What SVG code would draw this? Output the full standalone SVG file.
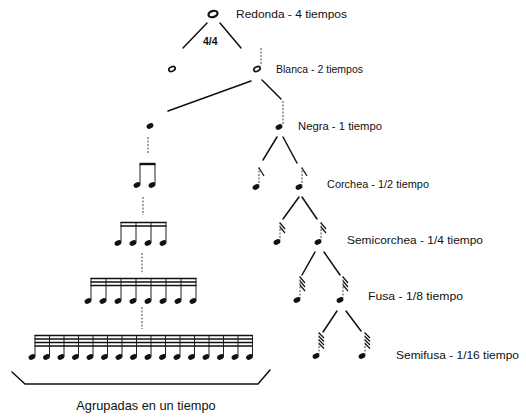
<svg xmlns="http://www.w3.org/2000/svg" xmlns:xlink="http://www.w3.org/1999/xlink" width="526" height="417" viewBox="0 0 526 417">
<style>
.lbl{font-family:"Liberation Sans",Arial,sans-serif;font-size:10.8px;fill:#111}
.big{font-family:"Liberation Sans",Arial,sans-serif;font-size:12.8px;fill:#111}
.edge{stroke:#111;stroke-width:1.5;fill:none;stroke-linecap:round}
.dash{stroke:#444;stroke-width:1;stroke-dasharray:2 1.5;fill:none}
.stem{stroke:#222;stroke-width:1;fill:none}
.flag{stroke:#111;stroke-width:1.2;fill:none}
.beam{stroke:#111;stroke-width:1.6;fill:none}
</style>
<defs>
<ellipse id="q" cx="0" cy="0" rx="3.6" ry="2.5" transform="rotate(-25)" fill="#111"/>
<ellipse id="h" cx="0" cy="0" rx="3.4" ry="2.1" transform="rotate(-25)" fill="none" stroke="#111" stroke-width="1.7"/>
</defs>
<rect width="526" height="417" fill="#fff"/>

<g id="connectors">
<line class="edge" x1="207" y1="23" x2="183" y2="48"/>
<line class="edge" x1="220" y1="23" x2="241" y2="48"/>
<line class="edge" x1="251" y1="81" x2="168" y2="111"/>
<line class="edge" x1="262" y1="80" x2="281" y2="99"/>
<line class="edge" x1="277" y1="137" x2="263" y2="160"/>
<line class="edge" x1="283" y1="137" x2="297" y2="163"/>
<line class="edge" x1="299" y1="197" x2="283" y2="219"/>
<line class="edge" x1="302" y1="197" x2="317" y2="219"/>
<line class="edge" x1="315" y1="252" x2="302" y2="275"/>
<line class="edge" x1="324" y1="252" x2="340" y2="275"/>
<line class="edge" x1="337" y1="311" x2="323" y2="332"/>
<line class="edge" x1="346" y1="311" x2="361" y2="331"/>
<line class="dash" x1="148" y1="137" x2="148" y2="154"/>
<line class="dash" x1="143" y1="197" x2="143" y2="215"/>
<line class="dash" x1="142" y1="253" x2="142" y2="272"/>
<line class="dash" x1="142" y1="307" x2="142" y2="329"/>
<path class="edge" d="M12 372 L25 384 L258 384 L270 370"/>
</g>

<g id="redonda">
<ellipse cx="213" cy="14" rx="4.6" ry="3" transform="rotate(-15 213 14)" fill="none" stroke="#111" stroke-width="2.2"/>
<text class="lbl" x="236" y="18" textLength="111" lengthAdjust="spacingAndGlyphs">Redonda - 4 tiempos</text>
<text x="203" y="45" font-family="Liberation Sans,Arial,sans-serif" font-size="10.5" font-weight="bold" fill="#111">4/4</text>
</g>

<g id="blanca-left">
<use xlink:href="#h" x="172" y="69"/>
</g>

<g id="blanca">
<use xlink:href="#h" x="257" y="69"/>
<line class="dash" x1="261" y1="48" x2="261" y2="66"/>
<text class="lbl" x="276" y="73" textLength="87" lengthAdjust="spacingAndGlyphs">Blanca - 2 tiempos</text>
</g>

<g id="negra-left">
<use xlink:href="#q" x="150" y="126"/>
</g>

<g id="negra">
<use xlink:href="#q" x="279" y="127"/>
<line class="dash" x1="283" y1="101" x2="283" y2="124"/>
<text class="lbl" x="298" y="130" textLength="84" lengthAdjust="spacingAndGlyphs">Negra - 1 tiempo</text>
</g>

<g id="corchea">
<use xlink:href="#q" x="256" y="187"/>
<line class="dash" x1="259" y1="167" x2="259" y2="185"/>
<line class="flag" x1="259" y1="168" x2="264" y2="176"/>
<use xlink:href="#q" x="299" y="187"/>
<line class="dash" x1="302" y1="167" x2="302" y2="185"/>
<line class="flag" x1="302" y1="168" x2="307" y2="176"/>
<text class="lbl" x="327" y="188" textLength="102" lengthAdjust="spacingAndGlyphs">Corchea - 1/2 tiempo</text>
</g>

<g id="semicorchea">
<use xlink:href="#q" x="277" y="242"/>
<line class="dash" x1="280" y1="222" x2="280" y2="240"/>
<line class="flag" x1="280" y1="223" x2="285" y2="229"/>
<line class="flag" x1="280" y1="227" x2="285" y2="233"/>
<use xlink:href="#q" x="318" y="242"/>
<line class="dash" x1="321" y1="222" x2="321" y2="240"/>
<line class="flag" x1="321" y1="223" x2="326" y2="229"/>
<line class="flag" x1="321" y1="227" x2="326" y2="233"/>
<text class="lbl" x="347" y="244" textLength="136" lengthAdjust="spacingAndGlyphs">Semicorchea - 1/4 tiempo</text>
</g>

<g id="fusa">
<use xlink:href="#q" x="297" y="300"/>
<line class="dash" x1="300" y1="276" x2="300" y2="298"/>
<line class="flag" x1="300" y1="277" x2="305" y2="283"/>
<line class="flag" x1="300" y1="281" x2="305" y2="287"/>
<line class="flag" x1="300" y1="285" x2="305" y2="291"/>
<use xlink:href="#q" x="340" y="300"/>
<line class="dash" x1="343" y1="276" x2="343" y2="298"/>
<line class="flag" x1="343" y1="277" x2="348" y2="283"/>
<line class="flag" x1="343" y1="281" x2="348" y2="287"/>
<line class="flag" x1="343" y1="285" x2="348" y2="291"/>
<text class="lbl" x="368" y="300" textLength="95" lengthAdjust="spacingAndGlyphs">Fusa - 1/8 tiempo</text>
</g>

<g id="semifusa">
<use xlink:href="#q" x="316" y="356"/>
<line class="dash" x1="319" y1="332" x2="319" y2="354"/>
<line class="flag" x1="319" y1="333" x2="324" y2="338"/>
<line class="flag" x1="319" y1="336.5" x2="324" y2="341.5"/>
<line class="flag" x1="319" y1="340" x2="324" y2="345"/>
<line class="flag" x1="319" y1="343.5" x2="324" y2="348.5"/>
<use xlink:href="#q" x="362" y="356"/>
<line class="dash" x1="365" y1="332" x2="365" y2="354"/>
<line class="flag" x1="365" y1="333" x2="370" y2="338"/>
<line class="flag" x1="365" y1="336.5" x2="370" y2="341.5"/>
<line class="flag" x1="365" y1="340" x2="370" y2="345"/>
<line class="flag" x1="365" y1="343.5" x2="370" y2="348.5"/>
<text class="lbl" x="396" y="359" textLength="123" lengthAdjust="spacingAndGlyphs">Semifusa - 1/16 tiempo</text>
</g>

<g id="grupo-2">
<use xlink:href="#q" x="137" y="185"/>
<use xlink:href="#q" x="152" y="185"/>
<path class="stem" d="M140 164V184M155 164V184"/>
<line x1="139.5" y1="164" x2="155.5" y2="164" stroke="#111" stroke-width="2.4"/>
</g>

<g id="grupo-4">
<use xlink:href="#q" x="118" y="243"/>
<use xlink:href="#q" x="133" y="243"/>
<use xlink:href="#q" x="148" y="243"/>
<use xlink:href="#q" x="163" y="243"/>
<path class="stem" d="M121 222V242M136 222V242M151 222V242M166 222V242"/>
<path class="beam" d="M120.5 222.5H166.5M120.5 226H166.5"/>
</g>

<g id="grupo-8">
<use xlink:href="#q" x="88" y="301"/>
<use xlink:href="#q" x="103" y="301"/>
<use xlink:href="#q" x="118" y="301"/>
<use xlink:href="#q" x="133" y="301"/>
<use xlink:href="#q" x="148" y="301"/>
<use xlink:href="#q" x="163" y="301"/>
<use xlink:href="#q" x="178" y="301"/>
<use xlink:href="#q" x="193" y="301"/>
<path class="stem" d="M91 278V300M106 278V300M121 278V300M136 278V300M151 278V300M166 278V300M181 278V300M196 278V300"/>
<path class="beam" d="M90.5 278.5H196.5M90.5 282H196.5M90.5 285.5H196.5"/>
</g>

<g id="grupo-16">
<use xlink:href="#q" x="32" y="357"/>
<use xlink:href="#q" x="46.5" y="357"/>
<use xlink:href="#q" x="61" y="357"/>
<use xlink:href="#q" x="75.5" y="357"/>
<use xlink:href="#q" x="90" y="357"/>
<use xlink:href="#q" x="104.5" y="357"/>
<use xlink:href="#q" x="119" y="357"/>
<use xlink:href="#q" x="133.5" y="357"/>
<use xlink:href="#q" x="148" y="357"/>
<use xlink:href="#q" x="162.5" y="357"/>
<use xlink:href="#q" x="177" y="357"/>
<use xlink:href="#q" x="191.5" y="357"/>
<use xlink:href="#q" x="206" y="357"/>
<use xlink:href="#q" x="220.5" y="357"/>
<use xlink:href="#q" x="235" y="357"/>
<use xlink:href="#q" x="249.5" y="357"/>
<path class="stem" d="M35 335V356M49.5 335V356M64 335V356M78.5 335V356M93 335V356M107.5 335V356M122 335V356M136.5 335V356M151 335V356M165.5 335V356M180 335V356M194.5 335V356M209 335V356M223.5 335V356M238 335V356M252.5 335V356"/>
<path class="beam" d="M34.5 335.5H253M34.5 339H253M34.5 342.5H253M34.5 346H253"/>
</g>

<g id="agrupadas">
<text class="big" x="146" y="410" text-anchor="middle">Agrupadas en un tiempo</text>
</g>
</svg>
